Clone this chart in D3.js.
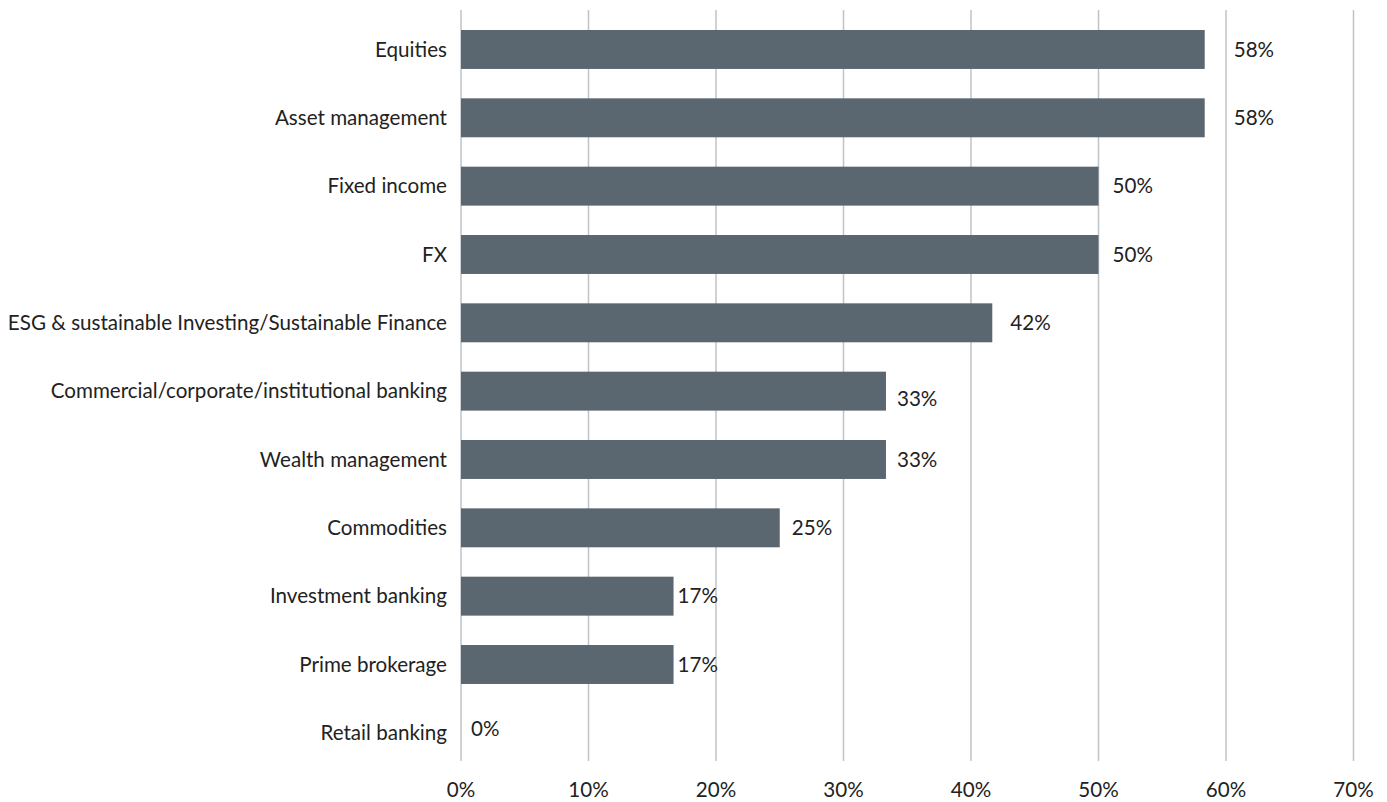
<!DOCTYPE html>
<html><head><meta charset="utf-8">
<script src="https://cdn.jsdelivr.net/npm/d3@7"></script>
<style>body{margin:0;background:#fff;}svg{display:block;font-family:Lato,"Open Sans",sans-serif;}</style>
</head><body>
<svg id="c" width="1387" height="802"></svg>
<script>
const categories = ["Equities","Asset management","Fixed income","FX","ESG & sustainable Investing/Sustainable Finance","Commercial/corporate/institutional banking","Wealth management","Commodities","Investment banking","Prime brokerage","Retail banking"];
const values = [58.33,58.33,50,50,41.67,33.33,33.33,25,16.67,16.67,0];
const valueLabels = ["58%","58%","50%","50%","42%","33%","33%","25%","17%","17%","0%"];
const ticks = [0,10,20,30,40,50,60,70];
// label placement nudges (style)
const labelGapX = [29,29,14,14,18,11,11,12,4,4,10];
const labelShiftY = [0,0,0,0,0,8,0,0,0,0,-4];

const FS = 20.6;
const svg = d3.select("#c");
const x = d3.scaleLinear().domain([0,70]).range([461,1353.5]);
const y = d3.scaleBand().domain(categories).range([15.3,767]).paddingInner(0.43).paddingOuter(0.215);

svg.append("g").selectAll("line").data(ticks).join("line")
  .attr("x1",d=>x(d)).attr("x2",d=>x(d)).attr("y1",10).attr("y2",761)
  .attr("stroke","#bfc4c8").attr("stroke-width",1.5);

svg.append("g").selectAll("rect").data(values).join("rect")
  .attr("x",x(0)).attr("y",(d,i)=>y(categories[i]))
  .attr("width",d=>x(d)-x(0)).attr("height",y.bandwidth())
  .attr("fill","#5a6770");

svg.append("g").selectAll("text").data(values).join("text")
  .attr("x",(d,i)=>x(d)+labelGapX[i]).attr("y",(d,i)=>y(categories[i])+y.bandwidth()/2+labelShiftY[i])
  .attr("dy","0.35em").attr("font-size",FS).attr("fill","#222")
  .text((d,i)=>valueLabels[i]);

svg.append("g").selectAll("text").data(categories).join("text")
  .attr("x",447).attr("y",d=>y(d)+y.bandwidth()/2).attr("dy","0.35em")
  .attr("text-anchor","end").attr("font-size",FS).attr("fill","#222").text(d=>d);

svg.append("g").selectAll("text").data(ticks).join("text")
  .attr("x",d=>x(d)).attr("y",790).attr("dy","0.35em").attr("text-anchor","middle")
  .attr("font-size",FS).attr("fill","#222").text(d=>d+"%");
</script>
</body></html>
